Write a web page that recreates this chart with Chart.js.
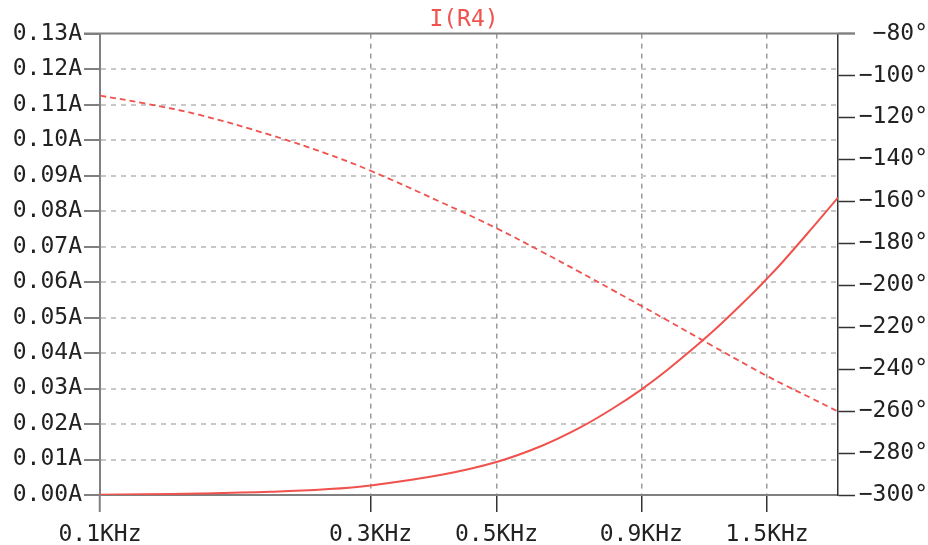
<!DOCTYPE html>
<html>
<head>
<meta charset="utf-8">
<script src="https://cdn.jsdelivr.net/npm/chart.js@4/dist/chart.umd.min.js"></script>
<style>
  html, body { margin: 0; padding: 0; background: #ffffff; }
  #wrap { width: 928px; height: 545px; }
</style>
</head>
<body>
<div id="wrap"><canvas id="plot" width="928" height="545"></canvas></div>
<script>
// AC sweep of I(R4): magnitude (solid, left axis) and phase (dashed, right axis)
const freqKHz    = [0.1, 0.12, 0.15, 0.2, 0.25, 0.3, 0.4, 0.5, 0.6, 0.7, 0.8, 0.9, 1.0, 1.2, 1.4, 1.5, 1.6, 1.8, 2.0];
const magnitudeA = [0.0001, 0.0002, 0.0004, 0.0009, 0.0016, 0.0027, 0.0057, 0.0093, 0.0138, 0.0189, 0.0243, 0.0297, 0.0352, 0.0459, 0.0561, 0.0610, 0.0658, 0.0752, 0.0838];
const phaseDeg   = [-109.6, -113.3, -118.8, -128.4, -137.1, -145.4, -160.5, -172.8, -183.9, -193.6, -202.2, -209.8, -216.7, -228.8, -238.9, -243.3, -247.2, -254.0, -260.2];

const freqTicks  = [0.1, 0.3, 0.5, 0.9, 1.5];
const traceName  = 'I(R4)';

const RED = '#f0524d';
const FONT = "'DejaVu Sans Mono', monospace";

const toPoints = (ys) => freqKHz.map((f, i) => ({ x: f, y: ys[i] }));

// top frame line, joining the first left tick and the first right tick
const frameTop = {
  id: 'frameTop',
  beforeDatasetsDraw(chart) {
    const { ctx, chartArea } = chart;
    ctx.save();
    ctx.strokeStyle = '#808080';
    ctx.lineWidth = 2;
    ctx.beginPath();
    ctx.moveTo(chartArea.left - 16, chartArea.top);
    ctx.lineTo(chartArea.right + 17, chartArea.top);
    ctx.stroke();
    ctx.restore();
  }
};

new Chart(document.getElementById('plot'), {
  type: 'line',
  data: {
    datasets: [
      {
        label: 'magnitude',
        data: toPoints(magnitudeA),
        yAxisID: 'y',
        borderColor: RED,
        borderWidth: 2,
        pointRadius: 0,
        tension: 0.4,
        fill: false
      },
      {
        label: 'phase',
        data: toPoints(phaseDeg),
        yAxisID: 'y2',
        borderColor: RED,
        borderWidth: 1.8,
        borderDash: [6, 4],
        pointRadius: 0,
        tension: 0.4,
        fill: false
      }
    ]
  },
  plugins: [frameTop],
  options: {
    responsive: false,
    animation: false,
    layout: { padding: 0 },
    plugins: {
      legend: { display: false },
      tooltip: { enabled: false },
      title: {
        display: true,
        text: traceName,
        color: RED,
        font: { family: FONT, size: 23, weight: 'normal', lineHeight: 1.2 },
        padding: { top: 6, bottom: 0 }
      }
    },
    scales: {
      x: {
        type: 'logarithmic',
        position: 'bottom',
        min: 0.1,
        max: 2.0,
        afterBuildTicks(scale) { scale.ticks = freqTicks.map(v => ({ value: v })); },
        afterFit(scale) { scale.height = 50; },
        ticks: {
          autoSkip: false,
          maxRotation: 0,
          padding: 9,
          color: '#222',
          font: { family: FONT, size: 23 },
          callback: (v) => Number(v).toFixed(1) + 'KHz'
        },
        grid: {
          color: (c) => (c.tick && c.tick.value === 0.1) ? 'rgba(0,0,0,0)' : '#9a9a9a',
          lineWidth: 1.5,
          tickLength: 17,
          tickColor: (c) => (c.tick && c.tick.value === 0.1) ? '#808080' : '#333333',
          tickWidth: (c) => (c.tick && c.tick.value === 0.1) ? 2 : 1.5
        },
        border: { display: true, color: '#808080', width: 2, dash: [5, 5] }
      },
      y: {
        type: 'linear',
        position: 'left',
        min: 0,
        max: 0.13,
        afterFit(scale) { scale.width = 100; },
        ticks: {
          stepSize: 0.01,
          autoSkip: false,
          padding: 2,
          color: '#222',
          font: { family: FONT, size: 23 },
          callback: (v) => Number(v).toFixed(2) + 'A'
        },
        grid: {
          color: (c) => {
            const v = c.tick ? Math.round(c.tick.value * 100) : -1;
            return (v === 0 || v === 13) ? 'rgba(0,0,0,0)' : '#c8c8c8';
          },
          lineWidth: 2,
          tickLength: 16,
          tickColor: '#808080',
          tickWidth: 2
        },
        border: { display: true, color: '#808080', width: 2, dash: [5, 5] }
      },
      y2: {
        type: 'linear',
        position: 'right',
        min: -300,
        max: -80,
        afterFit(scale) { scale.width = 90; },
        ticks: {
          stepSize: 20,
          autoSkip: false,
          padding: 3,
          crossAlign: 'far',
          color: '#222',
          font: { family: FONT, size: 23 },
          callback: (v) => '\u2212' + Math.abs(Math.round(v)) + '\u00b0'
        },
        grid: {
          drawOnChartArea: false,
          tickLength: 17,
          tickColor: '#333333',
          tickWidth: 1.5
        },
        border: { display: true, color: '#333333', width: 1.5 }
      }
    }
  }
});
</script>
</body>
</html>
